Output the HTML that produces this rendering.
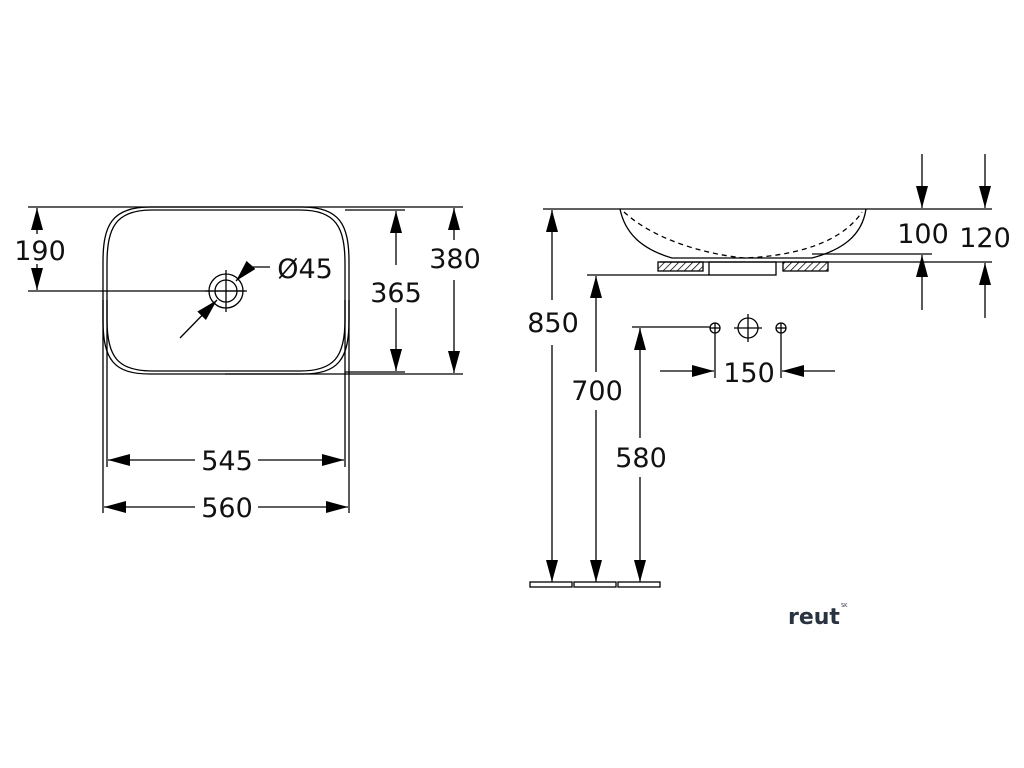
<!DOCTYPE html>
<html><head><meta charset="utf-8"><style>
html,body{margin:0;padding:0;background:#fff;width:1024px;height:768px;overflow:hidden}
svg{display:block}
text{font-family:"DejaVu Sans","Liberation Sans",sans-serif;fill:#111}
</style></head><body>
<svg width="1024" height="768" viewBox="0 0 1024 768" xmlns="http://www.w3.org/2000/svg">
<defs>
<marker id="b" viewBox="0 0 10 10" refX="10" refY="5" markerWidth="22" markerHeight="12" markerUnits="userSpaceOnUse" orient="auto-start-reverse" preserveAspectRatio="none"><path d="M0,0 L10,5 L0,10 z" fill="#000"/></marker>
<pattern id="h" width="5" height="5" patternUnits="userSpaceOnUse" patternTransform="rotate(45)"><line x1="0" y1="0" x2="0" y2="5" stroke="#000" stroke-width="1.5"/></pattern>
</defs>
<g stroke="#000" stroke-width="1.3" fill="none">
<!-- left view -->
<line x1="28" y1="207" x2="463" y2="207"/>
<line x1="28" y1="291" x2="245" y2="291"/>
<line x1="225" y1="374" x2="463" y2="374"/>
<line x1="345" y1="210" x2="405" y2="210"/>
<line x1="345" y1="372" x2="405" y2="372"/>
<path d="M150,207 L302,207 C340,207 349,225 349,262 L349,320 C349,360 338,374 302,374 L150,374 C114,374 103,360 103,320 L103,262 C103,225 112,207 150,207 Z"/>
<path d="M152,210 L300,210 C336,210 345,227 345,264 L345,320 C345,357 334,371 300,371 L152,371 C118,371 107,357 107,320 L107,264 C107,227 116,210 152,210 Z"/>
<line x1="103" y1="300" x2="103" y2="513"/>
<line x1="349" y1="300" x2="349" y2="513"/>
<line x1="107" y1="300" x2="107" y2="467"/>
<line x1="345" y1="300" x2="345" y2="467"/>
<!-- 190 -->
<line x1="37" y1="234" x2="37" y2="208" marker-end="url(#b)"/>
<line x1="37" y1="264" x2="37" y2="290" marker-end="url(#b)"/>
<!-- 365 -->
<line x1="396" y1="265" x2="396" y2="211" marker-end="url(#b)"/>
<line x1="396" y1="308" x2="396" y2="371" marker-end="url(#b)"/>
<!-- 380 -->
<line x1="454" y1="240" x2="454" y2="208" marker-end="url(#b)"/>
<line x1="454" y1="280" x2="454" y2="373" marker-end="url(#b)"/>
<!-- 545 / 560 -->
<line x1="195" y1="460" x2="108" y2="460" marker-end="url(#b)"/>
<line x1="258" y1="460" x2="344" y2="460" marker-end="url(#b)"/>
<line x1="195" y1="507" x2="104" y2="507" marker-end="url(#b)"/>
<line x1="258" y1="507" x2="348" y2="507" marker-end="url(#b)"/>
<!-- drain -->
<circle cx="226" cy="291" r="17"/>
<circle cx="226" cy="291" r="11"/>
<line x1="226" y1="270" x2="226" y2="312"/>
<line x1="205" y1="291" x2="247" y2="291"/>
<line x1="180" y1="338" x2="217" y2="300" marker-end="url(#b)"/>
<line x1="250" y1="266" x2="236" y2="281" marker-end="url(#b)"/>
<line x1="248" y1="267" x2="270" y2="267"/>
<!-- right view -->
<line x1="543" y1="209" x2="992" y2="209"/>
<path d="M620,209 C626,238 648,251 672,258 L812,258 C842,250 862,236 866,209"/>
<path d="M624,212 C660,245 720,256 745,258 C790,256 840,245 862,212" stroke-dasharray="5,4"/>
<line x1="812" y1="254" x2="932" y2="254"/>
<line x1="660" y1="262" x2="992" y2="262"/>
<rect x="658" y="262" width="45" height="9" fill="url(#h)"/>
<rect x="783" y="262" width="45" height="9" fill="url(#h)"/>
<rect x="709" y="262" width="67" height="13"/>
<line x1="587" y1="275" x2="709" y2="275"/>
<!-- 850/700/580 -->
<line x1="552" y1="300" x2="552" y2="210" marker-end="url(#b)"/>
<line x1="552" y1="345" x2="552" y2="582" marker-end="url(#b)"/>
<line x1="596" y1="372" x2="596" y2="276" marker-end="url(#b)"/>
<line x1="596" y1="410" x2="596" y2="582" marker-end="url(#b)"/>
<line x1="640" y1="438" x2="640" y2="328" marker-end="url(#b)"/>
<line x1="640" y1="477" x2="640" y2="582" marker-end="url(#b)"/>
<rect x="530" y="582" width="42" height="5"/>
<rect x="574" y="582" width="42" height="5"/>
<rect x="618" y="582" width="42" height="5"/>
<line x1="632" y1="327" x2="710" y2="327"/>
<circle cx="715" cy="328" r="5"/><line x1="710" y1="328" x2="720" y2="328"/><line x1="715" y1="323" x2="715" y2="378"/>
<circle cx="781" cy="328" r="5"/><line x1="776" y1="328" x2="786" y2="328"/><line x1="781" y1="323" x2="781" y2="378"/>
<circle cx="748" cy="328" r="10"/><line x1="734" y1="328" x2="762" y2="328"/><line x1="748" y1="314" x2="748" y2="342"/>
<line x1="660" y1="371" x2="714" y2="371" marker-end="url(#b)"/>
<line x1="835" y1="371" x2="782" y2="371" marker-end="url(#b)"/>
<!-- 100 / 120 -->
<line x1="922" y1="154" x2="922" y2="208" marker-end="url(#b)"/>
<line x1="922" y1="310" x2="922" y2="255" marker-end="url(#b)"/>
<line x1="985" y1="154" x2="985" y2="208" marker-end="url(#b)"/>
<line x1="985" y1="318" x2="985" y2="263" marker-end="url(#b)"/>
</g>
<g font-size="27" text-anchor="middle">
<text x="40" y="260">190</text>
<text x="396" y="302">365</text>
<text x="455" y="268">380</text>
<text x="227" y="470">545</text>
<text x="227" y="517">560</text>
<text x="305" y="278">Ø45</text>
<text x="553" y="332">850</text>
<text x="597" y="400">700</text>
<text x="641" y="467">580</text>
<text x="749" y="382">150</text>
<text x="923" y="243">100</text>
<text x="985" y="247">120</text>
</g>
<text x="788" y="624" font-family="Liberation Sans,sans-serif" font-weight="bold" font-size="22" style="fill:#2a3340">reut</text>
<text x="841" y="607" font-size="5" style="fill:#2a3340">SK</text>
</svg>
</body></html>
